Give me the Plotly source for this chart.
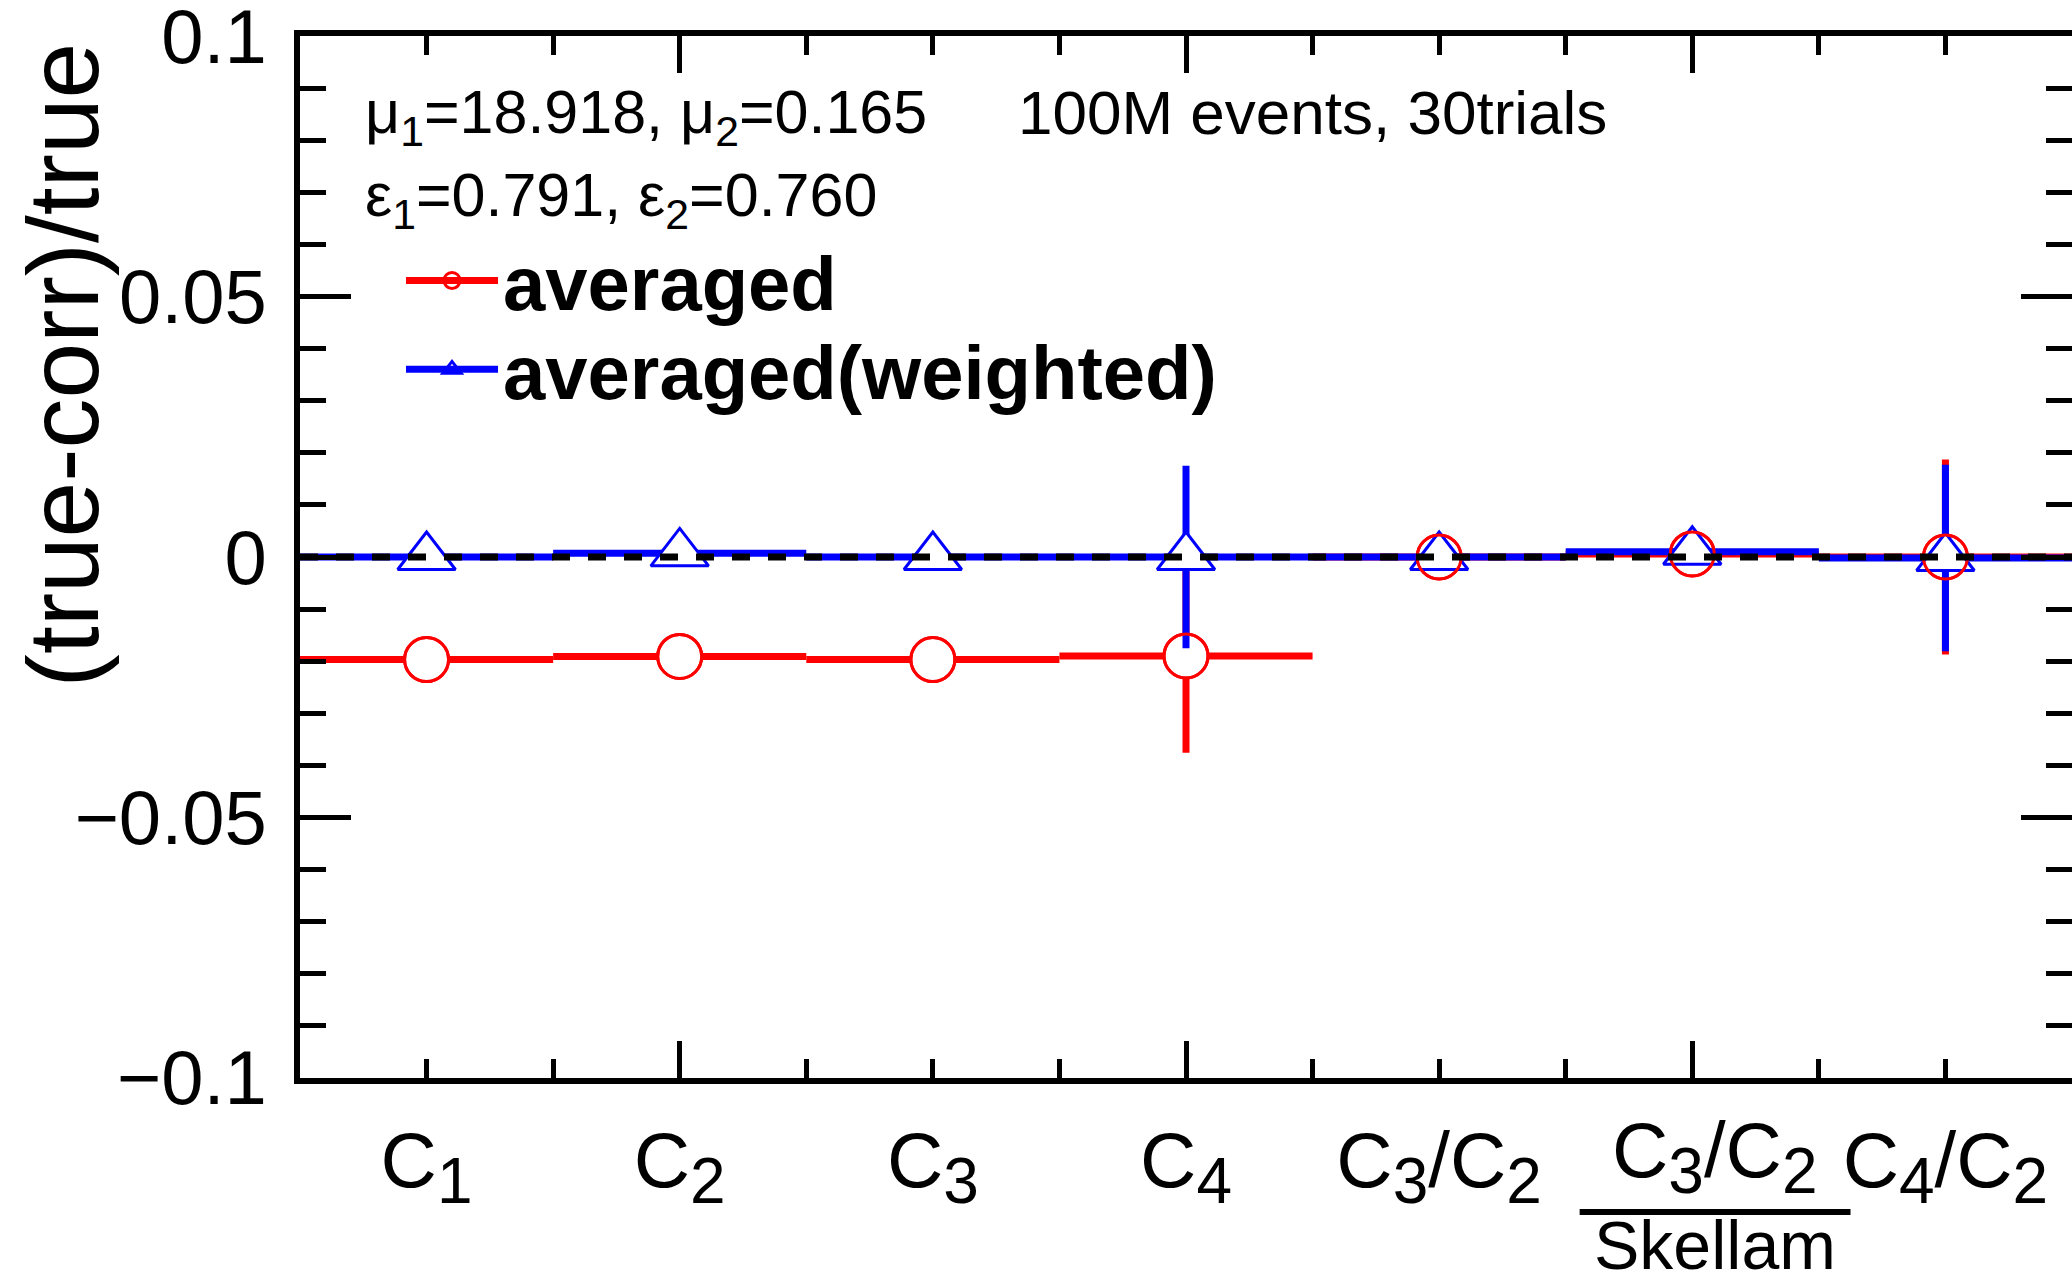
import plotly.graph_objects as go

# ---- data ----
bin_pos = [1, 2, 3, 4, 5, 6, 7]
SUB = '<sub><span style="font-size:64px">{}</span></sub>'
categories = [
    "C" + SUB.format("1"),
    "C" + SUB.format("2"),
    "C" + SUB.format("3"),
    "C" + SUB.format("4"),
    "C" + SUB.format("3") + "/C" + SUB.format("2"),
    "C" + SUB.format("3") + "/C" + SUB.format("2"),
    "C" + SUB.format("4") + "/C" + SUB.format("2"),
]
skellam_index = 6          # bin whose label is normalised by Skellam
skellam_text = "Skellam"
avg_vals = [-0.0197, -0.0191, -0.0197, -0.0190, 0.0000, 0.0006, 0.0000]
avg_errs = [0.0003, 0.0003, 0.0003, 0.0186, 0.0003, 0.0003, 0.0187]
wavg_vals = [0.0000, 0.0007, 0.0000, 0.0000, 0.0000, 0.0010, -0.0002]
wavg_errs = [0.0003, 0.0003, 0.0003, 0.0175, 0.0003, 0.0003, 0.0179]
bin_half_width = 0.5

ytick_vals = [-0.1, -0.05, 0, 0.05, 0.1]
ytick_text = ["\u22120.1", "\u22120.05", "0", "0.05", "0.1"]

FONT = "Liberation Sans, Arial, Helvetica, sans-serif"
RED = "#ff0000"
BLUE = "#0000ff"

# tick labels: the Skellam-normalised one is drawn as a small fraction below
tick_text = [("" if p == skellam_index else t) for p, t in zip(bin_pos, categories)]

fig = go.Figure()

# red points with bin-width horizontal bars and vertical errors
fig.add_trace(go.Scatter(
    x=bin_pos, y=avg_vals, mode="markers", showlegend=False,
    marker=dict(symbol="circle", size=44, color="white", line=dict(color=RED, width=3)),
    error_x=dict(type="constant", value=bin_half_width, color=RED, thickness=7, width=0),
    error_y=dict(type="data", array=avg_errs, color=RED, thickness=7, width=0),
))
# blue points
fig.add_trace(go.Scatter(
    x=bin_pos, y=wavg_vals, mode="markers", showlegend=False,
    marker=dict(symbol="triangle-up", size=50, color="white", line=dict(color=BLUE, width=3)),
    error_x=dict(type="constant", value=bin_half_width, color=BLUE, thickness=7, width=0),
    error_y=dict(type="data", array=wavg_errs, color=BLUE, thickness=7, width=0),
))
# red circle outlines on top (visible through the blue triangles)
fig.add_trace(go.Scatter(
    x=bin_pos, y=avg_vals, mode="markers", showlegend=False,
    marker=dict(symbol="circle-open", size=44, color=RED, line=dict(color=RED, width=3)),
))

# legend entries
fig.add_trace(go.Scatter(
    x=[None], y=[None], mode="lines+markers", name="averaged", legend="legend",
    xaxis="x2",
    line=dict(color=RED, width=7),
    marker=dict(symbol="circle-open", size=16, color=RED, line=dict(color=RED, width=3)),
))
fig.add_trace(go.Scatter(
    x=[None], y=[None], mode="lines+markers", name="averaged(weighted)", legend="legend2",
    xaxis="x2",
    line=dict(color=BLUE, width=7),
    marker=dict(symbol="triangle-up-open", size=16, color=BLUE, line=dict(color=BLUE, width=3)),
))

legend_common = dict(
    font=dict(family=FONT, size=76, color="black", weight="bold"),
    bgcolor="rgba(0,0,0,0)", borderwidth=0, itemwidth=92,
    xanchor="left", yanchor="middle",
)

label_shift = 0.09   # the fraction label sits slightly right of its bin centre

fig.update_layout(
    width=2072, height=1285,
    margin=dict(l=300, r=0, t=36, b=207, autoexpand=False),
    paper_bgcolor="white", plot_bgcolor="white",
    font=dict(family=FONT, color="black"),
    legend=dict(x=0.057, y=0.7653, **legend_common),
    legend2=dict(x=0.057, y=0.680, **legend_common),
    xaxis=dict(
        range=[0.5, 7.5], showgrid=False, zeroline=False, automargin=False,
        showline=True, linecolor="black", linewidth=6, mirror="ticks",
        ticks="inside", tickmode="linear", tick0=0, dtick=2,
        ticklen=37, tickwidth=5, tickcolor="black",
        showticklabels=False,
        minor=dict(ticks="inside", tickmode="linear", tick0=0, dtick=0.5,
                   ticklen=19, tickwidth=5, tickcolor="black", showgrid=False),
    ),
    xaxis2=dict(
        overlaying="x", anchor="y", side="bottom", automargin=False,
        range=[0.5, 7.5], showgrid=False, zeroline=False, showline=False,
        ticks="", tickmode="array", tickvals=bin_pos, ticktext=tick_text,
        tickfont=dict(family=FONT, size=78, color="black"),
        ticklabelstandoff=30, ticklabeloverflow="allow",
    ),
    yaxis=dict(
        range=[-0.10005, 0.10005], showgrid=False, zeroline=False, automargin=False,
        showline=True, linecolor="black", linewidth=6, mirror="ticks",
        ticks="inside", tickmode="array", tickvals=ytick_vals, ticktext=ytick_text,
        ticklen=51, tickwidth=5, tickcolor="black",
        tickfont=dict(family=FONT, size=76, color="black"),
        ticklabelstandoff=12, ticklabeloverflow="allow",
        minor=dict(ticks="inside", tickmode="linear", tick0=0, dtick=0.01,
                   ticklen=26, tickwidth=5, tickcolor="black", showgrid=False),
    ),
    shapes=[
        # dashed reference line at zero
        dict(type="line", xref="x domain", yref="y", x0=0, x1=1, y0=0, y1=0,
             line=dict(color="black", width=7, dash="18px,18px"), layer="above"),
        # fraction bar of the Skellam-normalised label
        dict(type="line", xref="x", yref="paper",
             x0=skellam_index + label_shift - 0.535, x1=skellam_index + label_shift + 0.535,
             y0=-0.1286, y1=-0.1286, line=dict(color="black", width=6)),
    ],
    annotations=[
        dict(text=categories[skellam_index - 1], xref="x", yref="paper",
             x=skellam_index + label_shift, y=-0.0245,
             xanchor="center", yanchor="top", showarrow=False,
             font=dict(family=FONT, size=78, color="black")),
        dict(text=skellam_text, xref="x", yref="paper",
             x=skellam_index + label_shift, y=-0.1985,
             xanchor="center", yanchor="bottom", showarrow=False,
             font=dict(family=FONT, size=68, color="black")),
        dict(text="(true-corr)/true", textangle=-90, xref="paper", yref="paper",
             x=-0.1665, y=0.9962, xanchor="left", yanchor="top", showarrow=False,
             font=dict(family=FONT, size=100, color="black")),
        dict(text="\u03bc<sub>1</sub>=18.918, \u03bc<sub>2</sub>=0.165",
             xref="paper", yref="paper", x=0.0356, y=0.9617,
             xanchor="left", yanchor="top", showarrow=False,
             font=dict(family=FONT, size=61, color="black")),
        dict(text="100M events, 30trials",
             xref="paper", yref="paper", x=0.404, y=0.9617,
             xanchor="left", yanchor="top", showarrow=False,
             font=dict(family=FONT, size=62, color="black")),
        dict(text="\u03b5<sub>1</sub>=0.791, \u03b5<sub>2</sub>=0.760",
             xref="paper", yref="paper", x=0.0356, y=0.882,
             xanchor="left", yanchor="top", showarrow=False,
             font=dict(family=FONT, size=61, color="black")),
    ],
)

fig.write_html("out.html")
